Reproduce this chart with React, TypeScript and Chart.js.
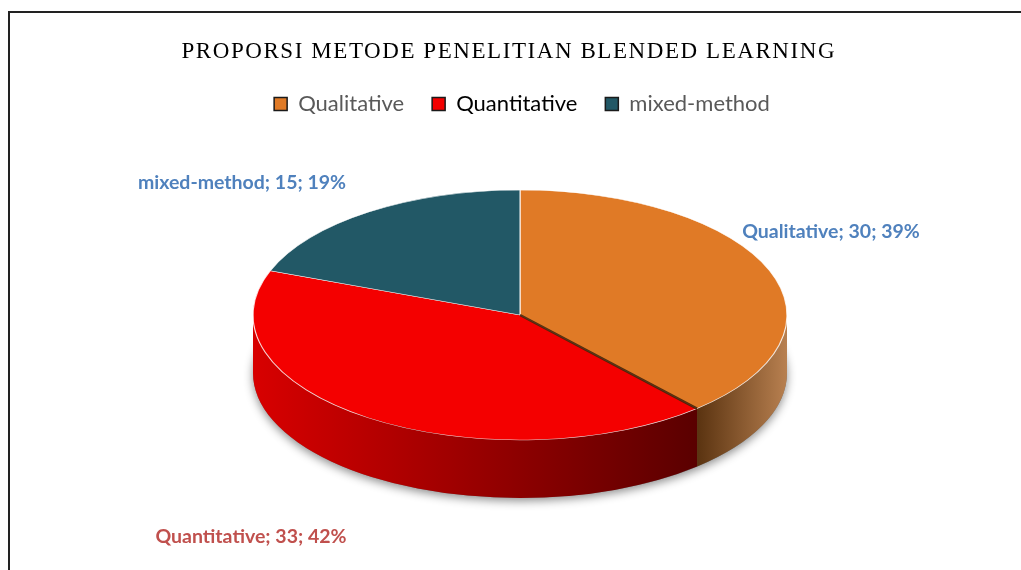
import { useEffect, useRef } from "react";
import { Chart, registerables } from "chart.js";

Chart.register(...registerables);

// ---- data ----
const categories = ["Qualitative", "Quantitative", "mixed-method"];
const counts = [30, 33, 15];
const percentLabels = ["39%", "42%", "19%"];
const chartTitle = "PROPORSI METODE PENELITIAN BLENDED LEARNING";

// ---- styles ----
const topColors = ["#E07A26", "#F40000", "#225866"];
const sideStops: [number, string][][] = [
  [[0.0, "#5A3310"], [1.0, "#B88050"]],
  [[0.0, "#D80000"], [1.0, "#5A0000"]],
  [[0.0, "#163C46"], [1.0, "#0E2A31"]],
];
const legendTextColors = ["#595959", "#000000", "#595959"];
const labelColors = ["#4F81BD", "#C0504D", "#4F81BD"];

// ---- layout ----
const W = 1021;
const H = 570;
const CX = 520;
const CY = 315;
const RX = 267;
const RY = 125;
const DEPTH = 58;
const TITLE_X = 508;
const TITLE_Y = 52;
const TITLE_W = 653;
const labelPos = [
  { x: 831, y: 232 },
  { x: 251, y: 537 },
  { x: 242, y: 183 },
];

const pie3d = {
  id: "pie3d",
  beforeDatasetsDraw(chart: any) {
    const meta = chart.getDatasetMeta(0);
    const arcs = meta.data;
    if (!arcs || !arcs.length) return;
    const ctx: CanvasRenderingContext2D = chart.ctx;
    const p0 = arcs[0].getProps(["x", "y", "outerRadius"], true);

    // shadow under the pie
    ctx.save();
    ctx.shadowColor = "rgba(0,0,0,0.45)";
    ctx.shadowBlur = 10;
    ctx.shadowOffsetY = 3;
    ctx.fillStyle = "#777";
    ctx.beginPath();
    ctx.ellipse(CX, CY + DEPTH, RX, RY, 0, 0, Math.PI * 2);
    ctx.fill();
    ctx.restore();

    // side walls (front half only)
    ctx.save();
    arcs.forEach((arc: any, i: number) => {
      const { startAngle, endAngle } = arc.getProps(["startAngle", "endAngle"], true);
      for (const k of [-2 * Math.PI, 0, 2 * Math.PI]) {
        const s = Math.max(startAngle + k, 0);
        const e = Math.min(endAngle + k, Math.PI);
        if (e <= s) continue;
        const xs = CX + RX * Math.cos(s);
        const xe = CX + RX * Math.cos(e);
        const left = Math.min(xs, xe);
        const right = Math.max(xs, xe);
        const g = ctx.createLinearGradient(left, 0, right, 0);
        sideStops[i].forEach(([o, c]) => g.addColorStop(o, c));
        ctx.fillStyle = g;
        ctx.beginPath();
        ctx.ellipse(CX, CY, RX, RY, 0, s, e, false);
        ctx.ellipse(CX, CY + DEPTH, RX, RY, 0, e, s, true);
        ctx.closePath();
        ctx.fill();
      }
    });
    ctx.restore();

    // top surface: map the library's circle onto the ellipse
    ctx.save();
    ctx.translate(CX, CY);
    ctx.scale(RX / p0.outerRadius, RY / p0.outerRadius);
    ctx.translate(-p0.x, -p0.y);
  },
  afterDatasetsDraw(chart: any) {
    const meta = chart.getDatasetMeta(0);
    if (!meta.data || !meta.data.length) return;
    const ctx: CanvasRenderingContext2D = chart.ctx;
    ctx.restore();
    // dark seam between the first and second slice
    const a = meta.data[0].getProps(["endAngle"], true).endAngle;
    ctx.save();
    ctx.strokeStyle = "rgba(70,35,5,0.9)";
    ctx.lineWidth = 2.5;
    ctx.beginPath();
    ctx.moveTo(CX, CY);
    ctx.lineTo(CX + RX * Math.cos(a), CY + RY * Math.sin(a));
    ctx.stroke();
    ctx.restore();
  },
  afterDraw(chart: any) {
    const ctx: CanvasRenderingContext2D = chart.ctx;
    // title
    ctx.save();
    ctx.font = '23px "Liberation Serif"';
    (ctx as any).letterSpacing = "0px";
    const w = ctx.measureText(chartTitle).width;
    const sp = (TITLE_W - w) / (chartTitle.length - 1);
    (ctx as any).letterSpacing = sp + "px";
    ctx.fillStyle = "#000";
    ctx.textAlign = "left";
    ctx.textBaseline = "middle";
    ctx.fillText(chartTitle, TITLE_X - TITLE_W / 2, TITLE_Y);
    ctx.restore();

    // data labels
    ctx.save();
    ctx.font = "bold 19.5px Lato";
    ctx.textAlign = "center";
    ctx.textBaseline = "middle";
    categories.forEach((c, i) => {
      ctx.fillStyle = labelColors[i];
      ctx.fillText(`${c}; ${counts[i]}; ${percentLabels[i]}`, labelPos[i].x, labelPos[i].y);
    });
    ctx.restore();
  },
};

export default function App() {
  const ref = useRef<HTMLCanvasElement>(null);
  useEffect(() => {
    const canvas = ref.current!;
    const chart = new Chart(canvas, {
      type: "pie",
      data: {
        labels: categories,
        datasets: [
          {
            data: counts,
            backgroundColor: topColors,
            borderColor: "rgba(255,255,255,0.8)",
            borderWidth: 1,
          },
        ],
      },
      options: {
        responsive: false,
        animation: false,
        events: [],
        rotation: 0,
        layout: { padding: { top: 65, left: 23, right: 0, bottom: 0 } },
        plugins: {
          tooltip: { enabled: false },
          legend: {
            display: true,
            position: "top",
            align: "center",
            labels: {
              boxWidth: 13,
              boxHeight: 13,
              padding: 28,
              font: { family: "Lato", size: 22 },
              generateLabels: () =>
                categories.map((c, i) => ({
                  text: c,
                  fillStyle: topColors[i],
                  strokeStyle: "#1a1a1a",
                  lineWidth: 1.5,
                  fontColor: legendTextColors[i],
                  hidden: false,
                  index: i,
                  datasetIndex: 0,
                })),
            },
          },
        },
      },
      plugins: [pie3d],
    });
    return () => chart.destroy();
  }, []);

  return (
    <div style={{ position: "fixed", left: 0, top: 0, width: W, height: H, background: "#fff", overflow: "hidden" }}>
      <canvas ref={ref} width={W} height={H} style={{ position: "absolute", left: 0, top: 0, width: W, height: H }} />
      <div
        style={{
          position: "absolute",
          left: 8,
          top: 11,
          width: W,
          height: H,
          borderTop: "2px solid #222",
          borderLeft: "2px solid #222",
          pointerEvents: "none",
        }}
      />
    </div>
  );
}
